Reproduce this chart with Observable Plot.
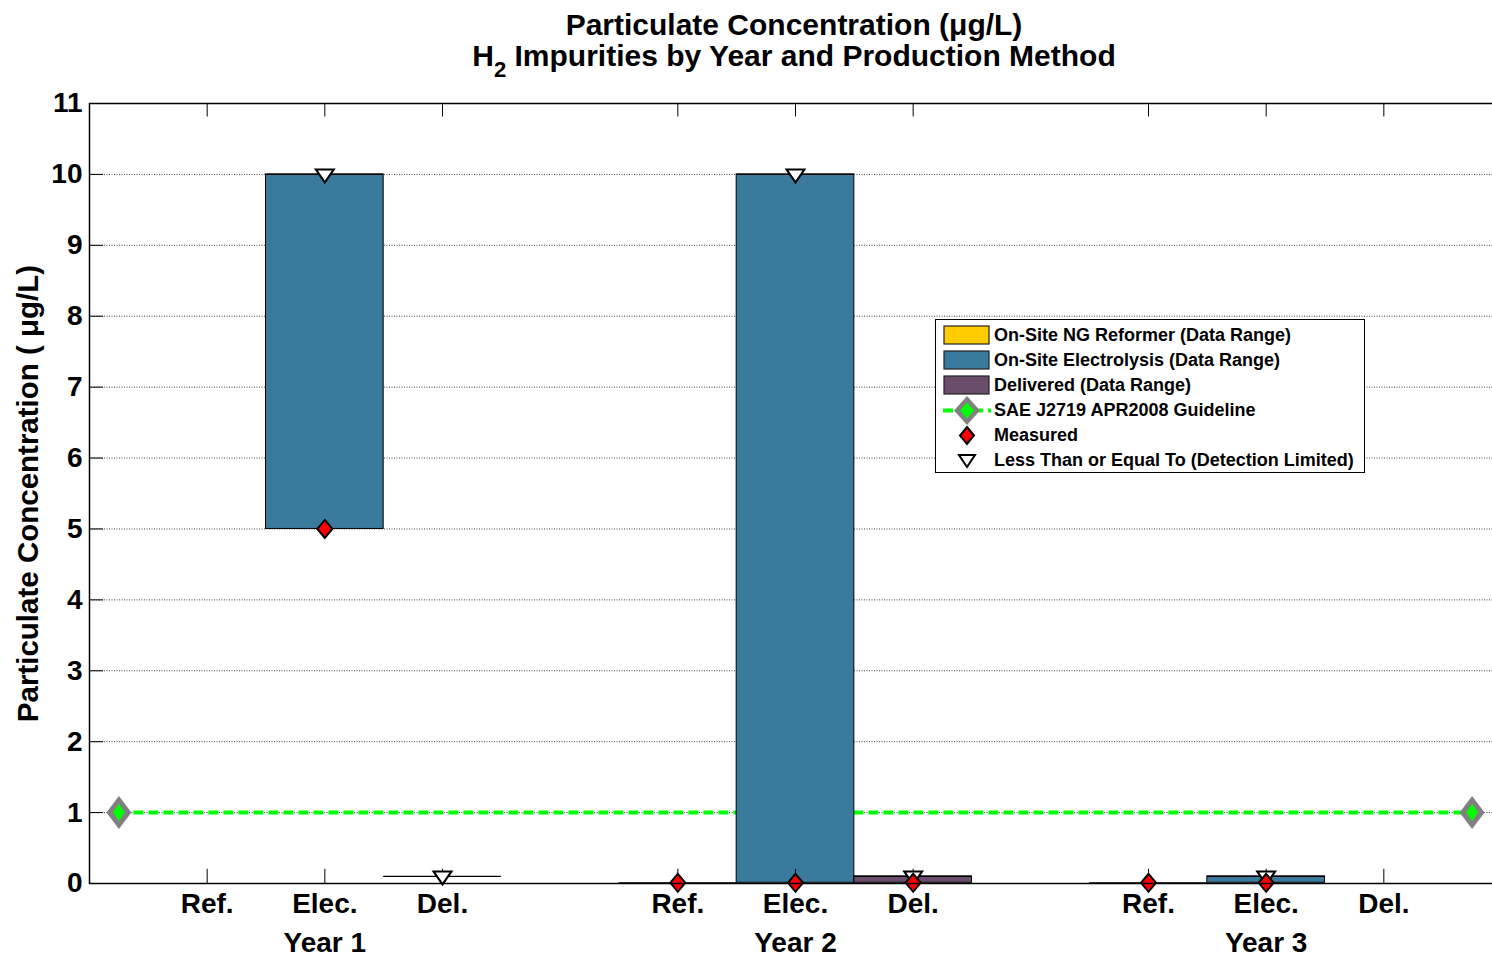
<!DOCTYPE html>
<html>
<head>
<meta charset="utf-8">
<script src="https://cdn.jsdelivr.net/npm/d3@7"></script>
<script src="https://cdn.jsdelivr.net/npm/@observablehq/plot@0.6"></script>
<style>
  html, body { margin: 0; padding: 0; background: white; overflow: hidden; }
  body { width: 1492px; height: 956px; position: relative; font-family: 'Liberation Sans', Arial, sans-serif; }
  #title { position: relative; height: 92px; }
  .tline { position: absolute; left: 794px; transform: translateX(-50%); white-space: nowrap; font-weight: bold; font-size: 30px; line-height: 31px; color: black; }
  #legend { position: absolute; left: 935px; top: 319px; width: 430px; height: 154px; box-sizing: border-box; border: 1.5px solid black; background: white; }
  .lrow { position: absolute; left: 0; height: 25px; width: 100%; }
  .lrow svg { position: absolute; left: 7px; top: 0; }
  .lrow span { position: absolute; left: 58px; top: 2px; font-size: 18px; font-weight: bold; line-height: 21px; white-space: nowrap; }
  #chart svg { overflow: visible; }
</style>
</head>
<body>
<div id="title">
  <div class="tline" style="top:9px">Particulate Concentration (μg/L)</div>
  <div class="tline" style="top:40px">H<span style="font-size:22px;position:relative;top:11px;">2</span> Impurities by Year and Production Method</div>
</div>
<div id="chart"></div>
<div id="legend"></div>
<script>
// ---- data ----
const years = ["Year 1", "Year 2", "Year 3"];
const methods = ["Ref.", "Elec.", "Del."];
const methodNames = ["On-Site NG Reformer (Data Range)", "On-Site Electrolysis (Data Range)", "Delivered (Data Range)"];
const methodColors = ["#FFCC00", "#3A7A9C", "#6B4C6B"];
// data range low / high per year (rows) and method (columns); null = no data
const rangeLow  = [[null, 5, 0.1], [0.01, 0.01, 0.01], [0.01, 0.01, null]];
const rangeHigh = [[null, 10, 0.1], [0.01, 10, 0.1], [0.01, 0.1, null]];
// measured values (red diamonds)
const measured = [[null, 5, null], [0.01, 0.01, 0.01], [0.01, 0.01, null]];
// detection-limited values (<=, open triangles)
const detectLimited = [[null, 10, 0.1], [null, 10, 0.1], [null, 0.1, null]];
// SAE J2719 guideline
const guidelineValue = 1;
const guidelineSpan = [0.25, 11.75];
const yTicks = [0, 1, 2, 3, 4, 5, 6, 7, 8, 9, 10, 11];
const yLabel = "Particulate Concentration ( μg/L)";
const legendLabels = [...methodNames, "SAE J2719 APR2008 Guideline", "Measured", "Less Than or Equal To (Detection Limited)"];

// ---- derived tables ----
const pos = (yi, mi) => yi * 4 + mi + 1;
const bars = [], meas = [], lim = [], xTicks = [], xTickLabel = {};
years.forEach((yr, yi) => methods.forEach((m, mi) => {
  const x = pos(yi, mi);
  xTicks.push(x); xTickLabel[x] = m;
  if (rangeLow[yi][mi] != null) bars.push({x, lo: rangeLow[yi][mi], hi: rangeHigh[yi][mi], color: methodColors[mi]});
  if (measured[yi][mi] != null) meas.push({x, y: measured[yi][mi]});
  if (detectLimited[yi][mi] != null) lim.push({x, y: detectLimited[yi][mi]});
}));
const yearLabels = years.map((yr, yi) => ({x: pos(yi, 1), label: yr}));
const guidePts = guidelineSpan.map(x => ({x, y: guidelineValue}));

// ---- symbols ----
const diamondSym = {draw(c) { c.moveTo(0, -9); c.lineTo(7.5, 0); c.lineTo(0, 9); c.lineTo(-7.5, 0); c.closePath(); }};
const triDownSym = {draw(c) { c.moveTo(-9, -5); c.lineTo(9, -5); c.lineTo(0, 8); c.closePath(); }};
const bigDiamond = {draw(c) { c.moveTo(0, -16.5); c.lineTo(12.5, 0); c.lineTo(0, 16.5); c.lineTo(-12.5, 0); c.closePath(); }};
const smallGreen = {draw(c) { c.moveTo(0, -8.5); c.lineTo(6, 0); c.lineTo(0, 8.5); c.lineTo(-6, 0); c.closePath(); }};

const chart = Plot.plot({
  width: 1492,
  height: 864,
  marginLeft: 89,
  marginRight: -9,
  marginTop: 11,
  marginBottom: 73,
  style: {fontFamily: "'Liberation Sans', Arial, sans-serif", fontSize: "28px", fontWeight: "bold", color: "black", background: "white", overflow: "visible"},
  x: {domain: [0, 12], ticks: xTicks, tickFormat: d => xTickLabel[d] ?? "", tickSize: 0, tickPadding: 10, label: null},
  y: {domain: [0, 11], ticks: yTicks, tickSize: 0, tickPadding: 7, label: null},
  marks: [
    Plot.ruleY(yTicks, {stroke: "#444", strokeWidth: 1, strokeDasharray: "1,1.5"}),
    Plot.ruleY([guidelineValue], {x1: guidelineSpan[0], x2: guidelineSpan[1], stroke: "#00FF00", strokeWidth: 4, strokeDasharray: "10,5"}),
    Plot.dot(guidePts, {x: "x", y: "y", symbol: bigDiamond, fill: "#808080", stroke: "none"}),
    Plot.dot(guidePts, {x: "x", y: "y", symbol: smallGreen, fill: "#00FF00", stroke: "none"}),
    Plot.rect(bars, {x1: d => d.x - 0.5, x2: d => d.x + 0.5, y1: "lo", y2: "hi", fill: "color", stroke: "black", strokeWidth: 1}),
    Plot.ruleY(bars, {y: "hi", x1: d => d.x - 0.5, x2: d => d.x + 0.5, stroke: "black", strokeWidth: 1.2}),
    Plot.ruleX(xTicks, {y1: 11, y2: 10.81, stroke: "black", strokeWidth: 1}),
    Plot.ruleX(xTicks, {y1: 0, y2: 0.2, stroke: "black", strokeWidth: 1}),
    Plot.ruleY(yTicks, {x1: 0, x2: 0.12, stroke: "black", strokeWidth: 1}),
    Plot.dot(lim, {x: "x", y: "y", symbol: triDownSym, fill: "white", stroke: "black", strokeWidth: 2}),
    Plot.dot(meas, {x: "x", y: "y", symbol: diamondSym, fill: "#FF0000", stroke: "black", strokeWidth: 2}),
    Plot.frame({stroke: "black", strokeWidth: 1.5}),
    Plot.text(yearLabels, {x: "x", text: "label", frameAnchor: "bottom", lineAnchor: "top", dy: 49}),
    Plot.text([yLabel], {frameAnchor: "left", textAnchor: "middle", rotate: -90, dx: -61, fontSize: 29.5})
  ]
});
document.getElementById("chart").appendChild(chart);

// ---- legend ----
const legend = document.getElementById("legend");
const rowTop = [3, 28, 53, 78, 103, 128];
legendLabels.forEach((lab, i) => {
  let icon;
  if (i < 3) icon = `<rect x="1" y="3" width="45" height="18" fill="${methodColors[i]}" stroke="#222" stroke-width="1.2"/>`;
  else if (i === 3) icon = `<line x1="0" x2="48" y1="12.5" y2="12.5" stroke="#00FF00" stroke-width="4" stroke-dasharray="10,5"/>
      <path d="M24,-2 L37,12.5 L24,27 L11,12.5Z" fill="#808080"/><path d="M24,4.5 L31,12.5 L24,20.5 L17,12.5Z" fill="#00FF00"/>`;
  else if (i === 4) icon = `<path d="M24,4 L31,12.5 L24,21 L17,12.5Z" fill="#FF0000" stroke="black" stroke-width="2"/>`;
  else icon = `<path d="M16,7 L32,7 L24,19Z" fill="white" stroke="black" stroke-width="2"/>`;
  const row = document.createElement("div");
  row.className = "lrow";
  row.style.top = rowTop[i] + "px";
  row.innerHTML = `<svg width="50" height="25" style="overflow:visible">${icon}</svg><span>${lab}</span>`;
  legend.appendChild(row);
});
</script>
</body>
</html>
